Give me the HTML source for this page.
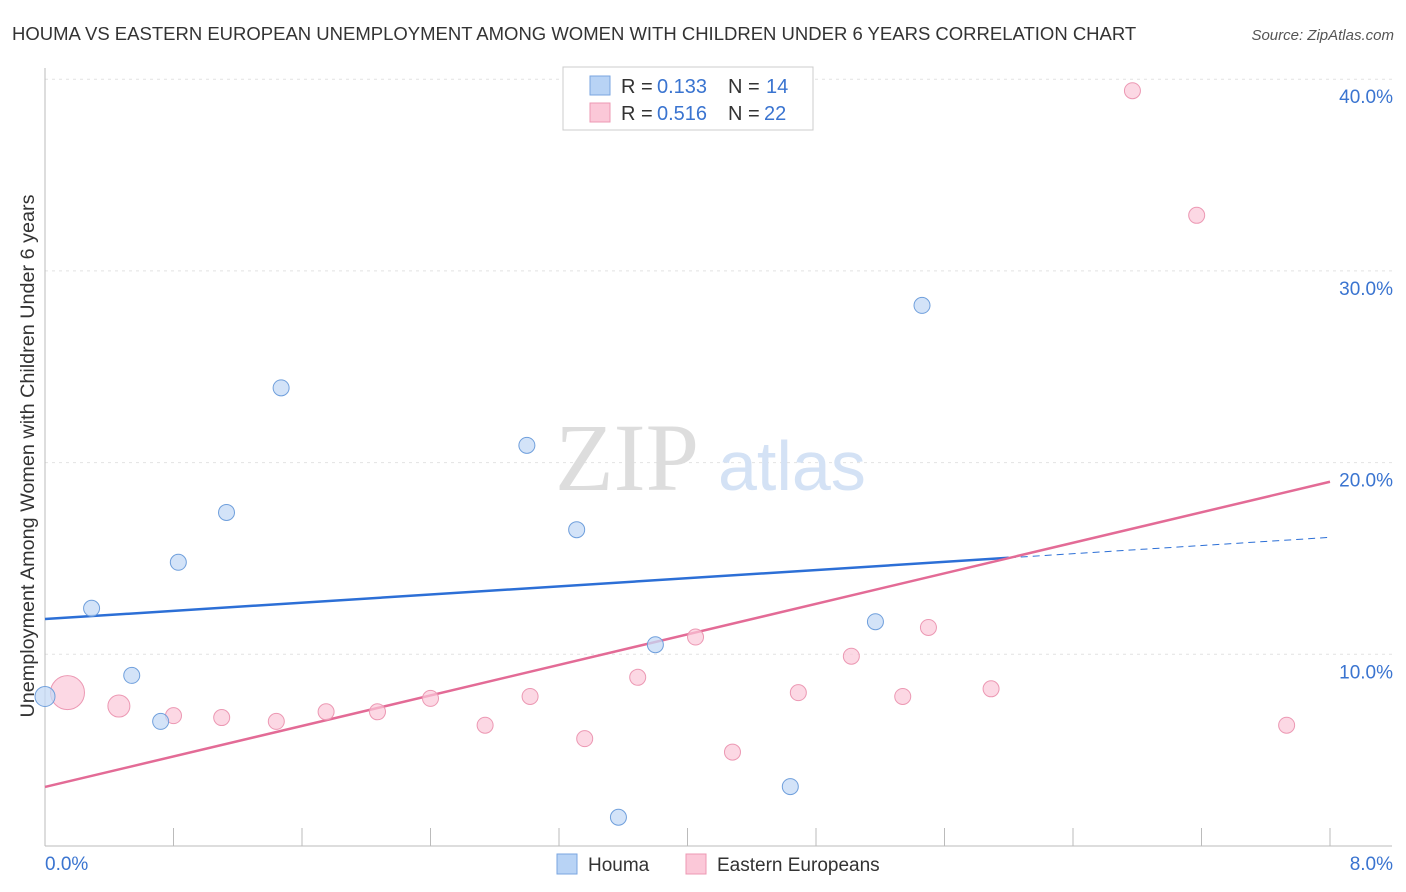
<!DOCTYPE html>
<html><head><meta charset="utf-8">
<style>
body{margin:0;background:#fff;font-family:"Liberation Sans",sans-serif;}
#wrap{position:relative;width:1406px;height:892px;overflow:hidden;}
</style></head>
<body>
<div id="wrap">
<svg id="svg" width="1406" height="892" xmlns="http://www.w3.org/2000/svg">
<text x="12" y="40" font-size="18.5" fill="#333">HOUMA VS EASTERN EUROPEAN UNEMPLOYMENT AMONG WOMEN WITH CHILDREN UNDER 6 YEARS CORRELATION CHART</text>
<text x="1394" y="40" font-size="15" fill="#555" font-style="italic" text-anchor="end">Source: ZipAtlas.com</text>
<g id="grid"></g>
<text x="555" y="490" font-size="96" fill="#ddd" font-family="Liberation Serif,serif">ZIP</text>
<text x="718" y="490" font-size="70" fill="#d4e2f5">atlas</text>
<g id="lines"></g>
<g id="points"></g>
<text transform="translate(34,456) rotate(-90)" font-size="19.8" fill="#333" text-anchor="middle">Unemployment Among Women with Children Under 6 years</text>
<g>
<rect x="563" y="67" width="250" height="63" fill="#fff" stroke="#ccc"/>
<rect x="590" y="76" width="20" height="19" fill="#b8d3f5" stroke="#7aa6e0"/>
<rect x="590" y="103" width="20" height="19" fill="#fbc8d8" stroke="#ec98b3"/>
<text x="621" y="93" font-size="20" fill="#333">R =</text>
<text x="657" y="93" font-size="20" fill="#3a74d0">0.133</text>
<text x="728" y="93" font-size="20" fill="#333">N =</text>
<text x="766" y="93" font-size="20" fill="#3a74d0">14</text>
<text x="621" y="120" font-size="20" fill="#333">R =</text>
<text x="657" y="120" font-size="20" fill="#3a74d0">0.516</text>
<text x="728" y="120" font-size="20" fill="#333">N =</text>
<text x="764" y="120" font-size="20" fill="#3a74d0">22</text>
</g>
<g>
<rect x="557" y="854" width="20" height="20" fill="#b8d3f5" stroke="#7aa6e0"/>
<text x="588" y="871" font-size="19" fill="#333">Houma</text>
<rect x="686" y="854" width="20" height="20" fill="#fbc8d8" stroke="#ec98b3"/>
<text x="717" y="871" font-size="19" fill="#333">Eastern Europeans</text>
</g>
</svg>
</div>
<script>
const yTicks=[10,20,30,40];
const yTickLabels=["10.0%","20.0%","30.0%","40.0%"];
const xTickLabels=["0.0%","8.0%"];
const houmaX=[0,0.29,0.54,0.72,0.83,1.13,1.47,3.0,3.31,3.57,3.80,4.64,5.17,5.46];
const houmaY=[7.8,12.4,8.9,6.5,14.8,17.4,23.9,20.9,16.5,1.5,10.5,3.1,11.7,28.2];
const eeX=[0.14,0.46,0.80,1.10,1.44,1.75,2.07,2.40,2.74,3.02,3.36,3.69,4.05,4.28,4.69,5.02,5.34,5.50,5.89,6.77,7.17,7.73];
const eeY=[8.0,7.3,6.8,6.7,6.5,7.0,7.0,7.7,6.3,7.8,5.6,8.8,10.9,4.9,8.0,9.9,7.8,11.4,8.2,39.4,32.9,6.3];
const houmaTrend=[11.84,16.1];
const eeTrend=[3.08,19.0];
const ns="http://www.w3.org/2000/svg";
const X=v=>45+v*160.625, Y=v=>846-v*19.17;
function mk(tag,attrs,parent){const e=document.createElementNS(ns,tag);for(const k in attrs)e.setAttribute(k,attrs[k]);document.getElementById(parent).appendChild(e);return e;}
yTicks.forEach((t,i)=>{
 const l=mk('line',{x1:45,x2:1392,y1:Y(t),y2:Y(t),stroke:'#e2e2e2','stroke-dasharray':'3,4'},'grid');
 
 
 const tx=mk('text',{x:1393,y:Y(t)+24,'font-size':19,fill:'#3a74d0','text-anchor':'end'},'grid');
 tx.textContent=yTickLabels[i];
 
 
});
const ax=mk('line',{x1:45,x2:1392,y1:846,y2:846,stroke:'#bbb'},'grid');


const ay=mk('line',{x1:45,x2:45,y1:68,y2:846,stroke:'#bbb'},'grid');


for(let i=0;i<=10;i++){const t=mk('line',{x1:X(i*0.8),x2:X(i*0.8),y1:828,y2:846,stroke:'#bbb'},'grid');
 
 }
[[0,45,'start'],[8,1393,'end']].forEach((d,i)=>{const t=mk('text',{x:d[1],y:870,'font-size':19,fill:'#3a74d0','text-anchor':d[2]},'grid');t.textContent=xTickLabels[i];
 
 });
const bx=6.0;
const hy=v=>houmaTrend[0]+(houmaTrend[1]-houmaTrend[0])*v/8;
let l1=mk('line',{x1:X(0),y1:Y(hy(0)),x2:X(bx),y2:Y(hy(bx)),stroke:'#2c6fd6','stroke-width':2.5},'lines');


let l2=mk('line',{x1:X(bx),y1:Y(hy(bx)),x2:X(8),y2:Y(hy(8)),stroke:'#2c6fd6','stroke-width':1,'stroke-dasharray':'7,5'},'lines');


let l3=mk('line',{x1:X(0),y1:Y(eeTrend[0]),x2:X(8),y2:Y(eeTrend[1]),stroke:'#e36b96','stroke-width':2.5},'lines');


eeX.forEach((x,i)=>{const c=mk('circle',{cx:X(x),cy:Y(eeY[i]),r:i==0?17:(i==1?11:8),fill:'#fbc8d8','fill-opacity':0.7,stroke:'#ec98b3'},'points');
 
 });
houmaX.forEach((x,i)=>{const c=mk('circle',{cx:X(x),cy:Y(houmaY[i]),r:i==0?10:8,fill:'#c4daf6','fill-opacity':0.75,stroke:'#6f9fdc'},'points');
 
 });
</script>
</body></html>
